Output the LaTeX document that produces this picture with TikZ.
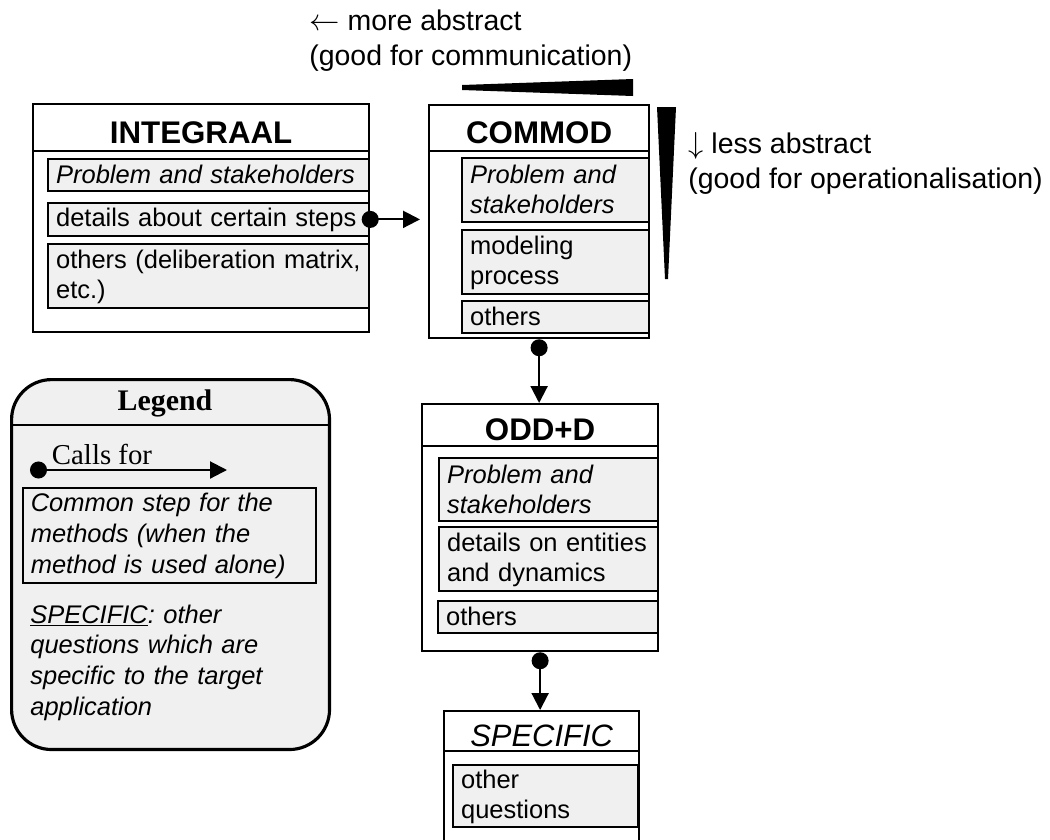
\documentclass[tikz,border=0pt]{standalone}
\usepackage{fontspec}
\setmainfont{Liberation Sans}
\newfontfamily\legendfont{Liberation Serif}
\usetikzlibrary{arrows.meta}
\definecolor{boxgray}{RGB}{240,240,240}
\newcommand{\stepstrut}{\rule[-1.6pt]{0pt}{13pt}}

\begin{document}
\begin{tikzpicture}[x=0.02cm,y=-0.02cm]
 \tikzset{
  method/.style={draw, line width=1.3pt, fill=white, anchor=north west, inner sep=0pt},
  method title/.style={draw, line width=1.3pt, anchor=north west, inner sep=0pt,
    text height=0.62cm, text depth=0pt,
    font=\fontsize{17.8}{20}\selectfont\bfseries},
  stepbox/.style 2 args={draw, line width=1.3pt, fill=boxgray, anchor=north west,
    inner xsep=0.16cm, inner ysep=0pt, text width=#1, minimum height=#2, align=left,
    font=\fontsize{14.5}{17}\selectfont,
    execute at begin node=\stepstrut, execute at end node=\stepstrut},
  italic text/.style={font=\fontsize{14.5}{17}\selectfont\itshape},
  calls/.style={line width=1.2pt,
    {Circle[length=0.34cm]}-{Triangle[length=0.34cm,width=0.34cm]}},
  remark/.style={anchor=north west, inner sep=0pt, align=left,
    font=\fontsize{16.2}{19.8}\selectfont}
 }
\useasboundingbox (0,0) rectangle (1050,839);

\node[remark] (more) at (309,10) {$\leftarrow$ more abstract\\(good for communication)};
\node[remark] (less) at (688,132) {$\downarrow$ less abstract\\(good for operationalisation)};
\fill (462,85) -- (633,79) -- (633,96) -- (462,90) -- cycle;
\fill (657,107) -- (676,107) -- (668,279) -- (665,279) -- cycle;

\node[method, minimum width=6.72cm, minimum height=4.56cm] (integ) at (32,103) {};
\node[method title, minimum width=6.72cm, minimum height=0.94cm] (integ-title) at (32,103) {INTEGRAAL};
\node[stepbox={6.1cm}{0.63cm}, italic text] (integ-prob) at (47,158) {Problem and stakeholders};
\node[stepbox={6.1cm}{0.65cm}] (integ-steps) at (47,202) {details about certain steps};
\node[stepbox={6.1cm}{1.28cm}] (integ-others) at (47,243) {others (deliberation matrix,\\etc.)};

\node[method, minimum width=4.4cm, minimum height=4.66cm] (commod) at (428,104) {};
\node[method title, minimum width=4.4cm, minimum height=0.92cm] (commod-title) at (428,104) {COMMOD};
\node[stepbox={3.42cm}{1.28cm}, italic text] (commod-prob) at (461,157) {Problem and\\stakeholders};
\node[stepbox={3.42cm}{1.28cm}] (commod-model) at (461,229) {modeling\\process};
\node[stepbox={3.42cm}{0.64cm}] (commod-others) at (461,300) {others};

\node[method, minimum width=4.72cm, minimum height=4.94cm] (odd) at (421,403) {};
\node[method title, minimum width=4.72cm, minimum height=0.84cm] (odd-title) at (421,403) {ODD+D};
\node[stepbox={4.06cm}{1.26cm}, italic text] (odd-prob) at (438,457) {Problem and\\stakeholders};
\node[stepbox={4.06cm}{1.28cm}] (odd-details) at (438,526) {details on entities\\and dynamics};
\node[stepbox={4.08cm}{0.64cm}] (odd-others) at (437,600) {others};

\node[method, minimum width=3.9cm, minimum height=3cm] (spec) at (443,710) {};
\node[method title, minimum width=3.9cm, minimum height=0.8cm,
  font=\fontsize{17.6}{20}\selectfont\itshape] (spec-title) at (443,710) {SPECIFIC};
\node[stepbox={3.38cm}{1.24cm}] (spec-other) at (452,764) {other\\questions};

\node[draw, line width=1.8pt, fill=boxgray, rounded corners=0.8cm, anchor=north west,
  minimum width=6.36cm, minimum height=7.4cm] (legend) at (10,378) {};
\draw[line width=1.3pt] (legend.west |- 0,425) -- (legend.east |- 0,425);
\node[font=\legendfont\fontsize{17}{20}\selectfont\bfseries] (legend-title) at (165,403) {Legend};
\node[font=\legendfont\fontsize{16.4}{20}\selectfont] (calls-label) at (102,454) {Calls for};
\coordinate (calls-a) at (30,470);
\coordinate (calls-b) at (227,470);
\node[stepbox={5.54cm}{1.9cm}, line width=0.9pt,
  font=\fontsize{14.5}{17.6}\selectfont\itshape] (legend-common) at (22,487)
  {Common step for the\\methods (when the\\method is used alone)};
\node[anchor=north west, inner xsep=0.16cm, inner ysep=0pt, text width=5.6cm, align=left,
  font=\fontsize{14.5}{17.6}\selectfont\itshape, execute at begin node=\strut] (legend-spec) at (22,601)
  {\underline{SPECIFIC}:\ other\\questions which are\\specific to the target\\application};

\draw[calls] (calls-a) -- (calls-b);
\draw[calls, shorten <=-0.17cm, shorten >=0.16cm] (integ-steps.east) -- (integ-steps.east -| commod.west);
\draw[calls] (commod.south) -- (commod.south |- odd.north);
\draw[calls] (odd.south) -- (odd.south |- spec.north);
\end{tikzpicture}
\end{document}
